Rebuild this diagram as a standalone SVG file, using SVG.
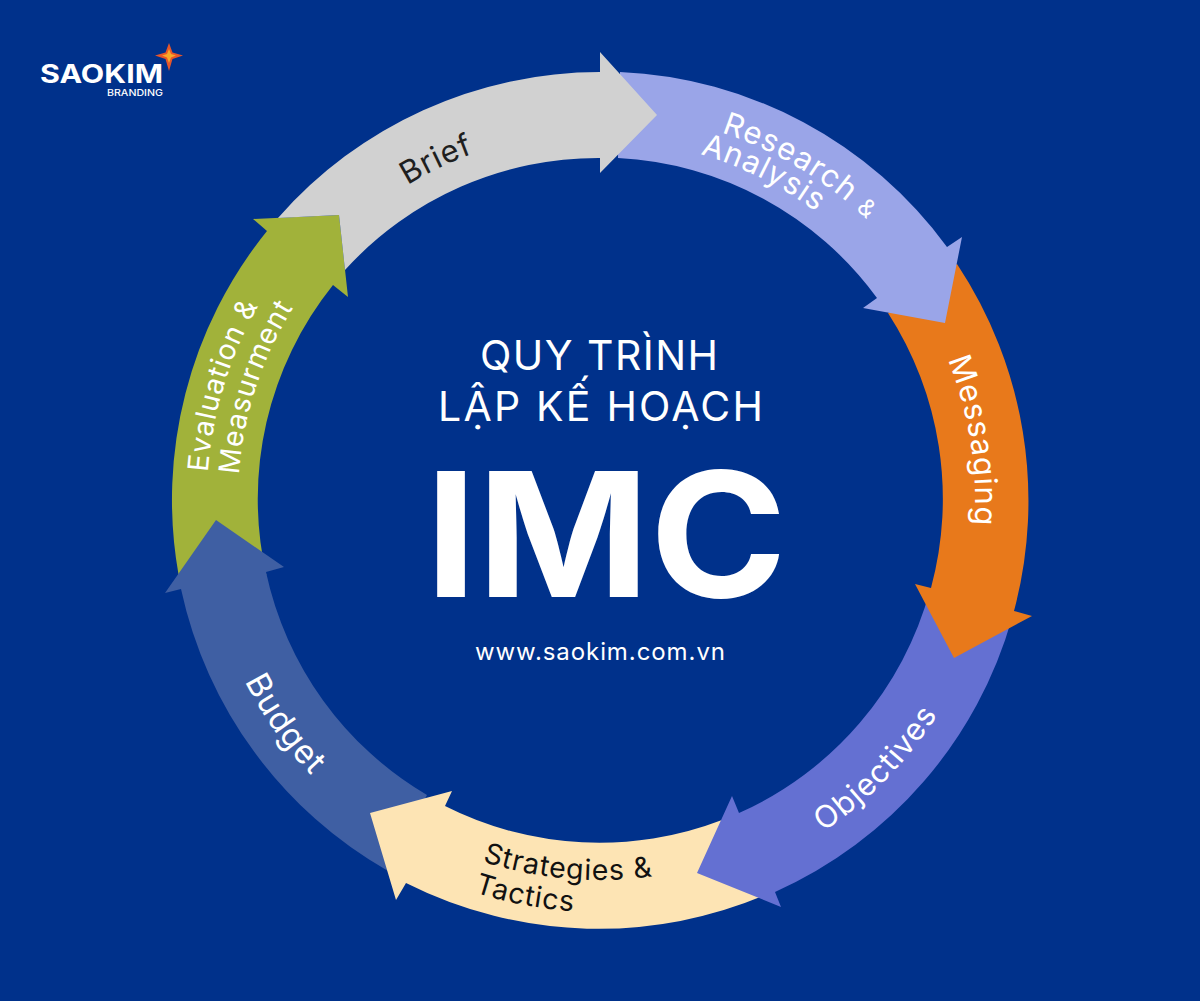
<svg xmlns="http://www.w3.org/2000/svg" xmlns:xlink="http://www.w3.org/1999/xlink" width="1200" height="1001" viewBox="0 0 1200 1001">
<style>
text{font-family:"Inter","Liberation Sans",sans-serif}
.l{font-size:28.500px;fill:#fff;text-anchor:middle;letter-spacing:.9px}
.m{font-size:31px;letter-spacing:1.100px}
.b{font-size:33px}
.d{fill:#1f1f1f;font-size:31px}
.k{fill:#111}
.t{font-size:41px;fill:#fff}
</style>
<defs>
<path id="c369" d="M231 500A369 369 0 0 1 969 500"/>
<path id="c393" d="M207 500A393 393 0 0 1 993 500"/>
<path id="c387" d="M213 500A387 387 0 0 1 987 500"/>
<path id="c360" d="M240 500A360 360 0 0 1 960 500"/>
<path id="c375" d="M225 500A375 375 0 0 1 975 500"/>
<path id="c362" d="M238 500A362 362 0 0 1 962 500"/>
<path id="a400" d="M200 500A400 400 0 0 0 1000 500"/>
<path id="a380" d="M220 500A380 380 0 0 0 980 500"/>
<path id="a412" d="M188 500A412 412 0 0 0 1012 500"/>
<path id="a399" d="M201 500A399 399 0 0 0 999 500"/>
</defs>
<rect width="1200" height="1001" fill="#00318b"/>
<g id="logo">
<polygon points="169,43 172.500,52.500 183,55.500 172.500,59 169,71 165.500,59 155,55.500 165.500,52.500" fill="#e5562b"/>
<polygon points="169,49 171,54 176,55.500 171,57.500 169,63 167,57.500 162,55.500 167,54" fill="#f7a928"/>
<text x="40" y="83" font-size="25" font-weight="700" fill="#fff" textLength="123" lengthAdjust="spacingAndGlyphs">SAOKIM</text>
<text x="107" y="96" font-size="9" font-weight="500" fill="#fff" textLength="56" lengthAdjust="spacingAndGlyphs">BRANDING</text>
</g>
<g id="evaluation">
<path fill="#a1b23a" d="M178.600 575A428 428 0 0 1 267 231L253 219L339 215L348 297L333 285A342 342 0 0 0 266.300 575Z"/>
<g transform="rotate(-73.100 600 500)"><text class="l"><textPath href="#c393" startOffset="50%">Evaluation &amp;</textPath></text></g>
<g transform="rotate(-71.900 600 500)"><text class="l"><textPath href="#c362" startOffset="50%">Measurment</textPath></text></g>
</g>
<g id="budget">
<path fill="#3f5fa3" d="M388 871A428 428 0 0 1 181 589L165 593L216 520L284 567L266 572A342 342 0 0 0 427 795Z"/>
<g transform="rotate(54.600 600 500)"><text class="l b"><textPath href="#a399" startOffset="50%">Budget</textPath></text></g>
</g>
<g id="strategies">
<path fill="#fde4b4" d="M770 893A428 428 0 0 1 406 883L396 900L370 813L452 791L445 806A342 342 0 0 0 722 820Z"/>
<g transform="rotate(5 600 500)"><text class="l k"><textPath href="#a380" startOffset="50%">Strategies &amp;</textPath></text></g>
<g transform="rotate(10.700 600 500)"><text class="l k"><textPath href="#a412" startOffset="50%">Tactics</textPath></text></g>
</g>
<g id="objectives">
<path fill="#6470d2" d="M1012 618A428 428 0 0 1 775 892L781 907L697 873L732 796L739 813A342 342 0 0 0 930 590Z"/>
<g transform="rotate(-45.800 600 500)"><text class="l m"><textPath href="#a400" startOffset="50%">Objectives</textPath></text></g>
</g>
<g id="messaging">
<path fill="#e8791b" d="M957 264A428 428 0 0 1 1014 611L1032 616L954 658L915 584L931 588A342 342 0 0 0 888 313Z"/>
<g transform="rotate(81 600 500)"><text class="l m"><textPath href="#c375" startOffset="50%">Messaging</textPath></text></g>
</g>
<g id="research">
<path fill="#9aa5e8" d="M620 72A428 428 0 0 1 947 247L962 237L945 323L863 308L877 298A342 342 0 0 0 618 158Z"/>
<g transform="rotate(31 600 500)"><text class="l m"><textPath href="#c387" startOffset="50%">Research <tspan font-size="24">&amp;</tspan></textPath></text></g>
<g transform="rotate(26.600 600 500)"><text class="l m"><textPath href="#c360" startOffset="50%">Analysis</textPath></text></g>
</g>
<g id="brief">
<path fill="#d1d1d1" d="M278 218A428 428 0 0 1 600 72L600 52L657 115L600 173L600 158A342 342 0 0 0 345 270L339 215Z"/>
<g transform="rotate(-25.700 600 500)"><text class="l d"><textPath href="#c369" startOffset="50%">Brief</textPath></text></g>
</g>
<g id="title">
<text class="t" x="480" y="370" textLength="238" lengthAdjust="spacing">QUY TRÌNH</text>
<text class="t" x="438" y="421" textLength="325" lengthAdjust="spacing">LẬP KẾ HOẠCH</text>
<text x="425" y="597" font-size="173" font-weight="700" fill="#fff" textLength="362" lengthAdjust="spacingAndGlyphs">IMC</text>
<text x="475" y="660" font-size="24" fill="#fff" textLength="250" lengthAdjust="spacing">www.saokim.com.vn</text>
</g>
</svg>
